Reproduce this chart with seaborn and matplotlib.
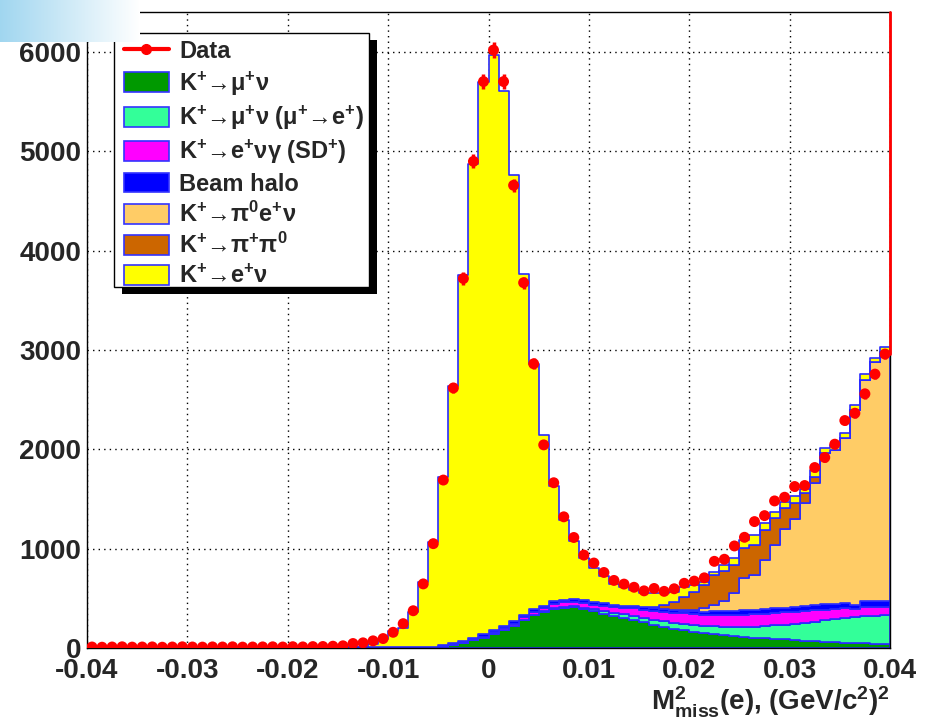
import numpy as np
import pandas as pd
import matplotlib
matplotlib.use("Agg")
import matplotlib.pyplot as plt
import seaborn as sns
from matplotlib.patches import Rectangle, Patch
from matplotlib.lines import Line2D

# 80 bins of 0.001 from -0.04 to 0.04
edges = np.linspace(-0.04, 0.04, 81)
centers = 0.5 * (edges[:-1] + edges[1:])

data = [10, 8, 10, 12, 9, 10, 11, 8, 10, 12, 10, 9, 11, 10, 12, 9, 10, 11, 12, 10,
        13, 11, 14, 15, 18, 22, 45, 52, 72, 95, 158, 245, 375, 645, 1050, 1690,
        2617, 3718, 4897, 5700, 6017, 5700, 4656, 3676, 2860, 2044, 1663, 1320, 1112,
        935, 855, 760, 680, 643, 611, 575, 599, 570, 596, 651, 673, 706, 872, 893,
        1027, 1114, 1272, 1332, 1480, 1517, 1625, 1635, 1816, 1917, 2051, 2289, 2363,
        2558, 2756, 2958]

kmu2 = [0] * 34 + [5, 13, 30, 50, 80, 104, 145, 180, 222, 280, 330, 365, 395, 405, 408,
                   390, 372, 345, 318, 300, 282, 265, 235, 210, 190, 180, 160, 148, 138,
                   128, 120, 111, 104, 97, 91, 87, 81, 74, 68, 64, 58, 54, 50, 47, 44, 41]
kmu2_mue = [0] * 36 + [2, 2, 3, 3, 3, 4, 4, 5, 6,
                       5, 7, 8, 10, 12, 20, 25, 34, 38, 40, 40, 50, 58, 62, 62, 72, 77, 82,
                       87, 92, 104, 111, 125, 137, 148, 164, 181, 197, 216, 234, 246, 258,
                       271, 281, 289]
ke2g_sd = [0] * 34 + [2, 3, 4, 5, 6, 8, 10,
                      14, 20, 24, 28, 30, 40, 45, 42, 48, 44, 53, 58, 67, 76, 81, 87, 94,
                      103, 106, 110, 111, 116, 121, 118, 121, 127, 124, 124, 124, 121, 117,
                      113, 105, 98, 98, 84, 92, 85, 82]
halo = [6] * 34 + [8, 10, 12, 14, 16, 30, 20, 24, 22, 24, 24, 25, 26, 28, 30, 28, 27, 27,
                   25, 20, 20, 24, 33, 30, 28, 28, 27, 26, 33, 37, 39, 47, 41, 47, 47, 47,
                   50, 51, 52, 58, 50, 52, 44, 63, 60, 65]
ke3 = [0] * 56 + [2, 3, 4, 5, 16, 38, 66, 102, 182, 319, 352, 493, 638, 789, 879, 1040,
                  1228, 1517, 1555, 1660, 1961, 2226, 2403, 2497]
kpi2 = [0] * 56 + [3, 38, 79, 136, 182, 234, 300, 300, 284, 302, 302, 302, 268, 211, 168,
                   94, 67] + [0] * 7
ke2 = [0] * 27 + [9, 34, 84, 169, 194, 354, 659, 1050, 1694, 2592, 3679, 4762, 5555, 5788,
                  5385, 4494, 3435, 2472, 1716, 1166, 801, 586, 425, 340, 276, 208, 186,
                  166, 142, 140, 117, 101, 101, 67, 34, 34, 61, 68, 83, 101, 67, 67, 67,
                  70, 40, 67, 57, 50, 52, 50, 56, 50, 50]

labels = ["K$^{+}$→μ$^{+}$ν", "K$^{+}$→μ$^{+}$ν (μ$^{+}$→e$^{+}$)",
          "K$^{+}$→e$^{+}$νγ (SD$^{+}$)", "Beam halo", "K$^{+}$→π$^{0}$e$^{+}$ν",
          "K$^{+}$→π$^{+}$π$^{0}$", "K$^{+}$→e$^{+}$ν"]
series = [kmu2, kmu2_mue, ke2g_sd, halo, ke3, kpi2, ke2]
colors = ["#009900", "#33ff99", "#ff00ff", "#0000ff", "#ffcc66", "#cc6600", "#ffff00"]

rows = []
for lab, vals in zip(labels, series):
    for c, v in zip(centers, vals):
        rows.append((c, v, lab))
df = pd.DataFrame(rows, columns=["x", "w", "comp"])

sns.set_style("white")
plt.rcParams["font.family"] = ["Liberation Sans", "DejaVu Sans"]
plt.rcParams["font.weight"] = "bold"
plt.rcParams["axes.labelweight"] = "bold"
plt.rcParams["mathtext.fontset"] = "custom"
plt.rcParams["mathtext.rm"] = "Liberation Sans:bold"
plt.rcParams["mathtext.it"] = "Liberation Sans:bold"
plt.rcParams["mathtext.bf"] = "Liberation Sans:bold"
plt.rcParams["mathtext.sf"] = "Liberation Sans:bold"

fig = plt.figure(figsize=(9.25, 7.18), dpi=100)

# pale blue canvas corner, fading to white
grad = np.ones((42, 140, 3))
fade = np.linspace(0, 1, 140)
for i, c in enumerate((0.63, 0.84, 0.94)):
    grad[:, :, i] = c + (1 - c) * fade
fig.figimage(grad, xo=0, yo=718 - 42, zorder=0)

ax = fig.add_axes([87 / 925, 70 / 718, 803 / 925, 636 / 718])
ax.set_axisbelow(True)

# seaborn stacks the last hue level at the bottom
sns.histplot(df, x="x", weights="w", hue="comp", hue_order=labels[::-1],
             palette=dict(zip(labels, colors)), multiple="stack", bins=edges.tolist(),
             element="step", fill=True, alpha=1, edgecolor="#2a2aff", linewidth=1.2,
             legend=False, ax=ax)

data = np.array(data)
ax.errorbar(centers, data, yerr=np.sqrt(data), fmt="none", ecolor="red",
            elinewidth=2.5, capsize=0, zorder=5)
sns.scatterplot(x=centers, y=data, color="red", s=62, edgecolor="none",
                zorder=6, ax=ax, legend=False)
ax.plot([0.04, 0.04], [data[-1], 6400], color="red", lw=2, zorder=6, clip_on=False)

ax.set_xlim(-0.04, 0.04)
ax.set_ylim(0, 6400)
ax.set_xticks(np.arange(-4, 5) / 100)
ax.set_xticklabels(["-0.04", "-0.03", "-0.02", "-0.01", "0", "0.01", "0.02", "0.03", "0.04"])
ax.set_xticks(np.arange(-40, 41, 2) / 1000, minor=True)
ax.set_yticks(np.arange(0, 6001, 1000))
ax.set_yticks(np.arange(0, 6401, 200), minor=True)
ax.tick_params(axis="both", which="both", direction="in", top=False, right=False,
               labelsize=20, width=1, color="black")
ax.tick_params(axis="x", which="major", length=13.5, pad=7)
ax.tick_params(axis="x", which="minor", length=7)
ax.tick_params(axis="y", which="major", length=17, pad=4)
ax.tick_params(axis="y", which="minor", length=8.5)
ax.grid(True, which="major", linestyle=(0, (1, 3)), color="black", lw=1)
for s in ax.spines.values():
    s.set_color("black")
    s.set_linewidth(1)
ax.set_ylabel("")
ax.set_xlabel("M$^{2}_{miss}$(e), (GeV/c$^{2}$)$^{2}$", fontsize=20, fontweight="bold",
              loc="right", labelpad=1)

# legend with ROOT-style shadowed box
handles = [Line2D([0], [0], color="red", lw=3, marker="o", ms=7)]
handles += [Patch(facecolor=c, edgecolor="#3333ff", lw=1.2) for c in colors]
leg = ax.legend(handles, ["Data"] + labels, loc="upper left",
                bbox_to_anchor=((124 - 87) / 803, (648 - 40) / 636), frameon=False,
                fontsize=17, handlelength=1.9, handleheight=0.92, labelspacing=0.26,
                handletextpad=0.45, borderaxespad=0, borderpad=0)
leg.set_zorder(8)
bx, by = (114 - 87) / 803, (648 - 287) / 636
bw, bh = (369 - 114) / 803, (287 - 33) / 636
ax.add_patch(Rectangle((bx + 8 / 803, by - 7 / 636), bw, bh, transform=ax.transAxes,
                       facecolor="black", edgecolor="none", zorder=7, clip_on=False))
ax.add_patch(Rectangle((bx, by), bw, bh, transform=ax.transAxes, facecolor="white",
                       edgecolor="black", lw=1, zorder=7.5, clip_on=False))

fig.savefig("out.png", dpi=100)
